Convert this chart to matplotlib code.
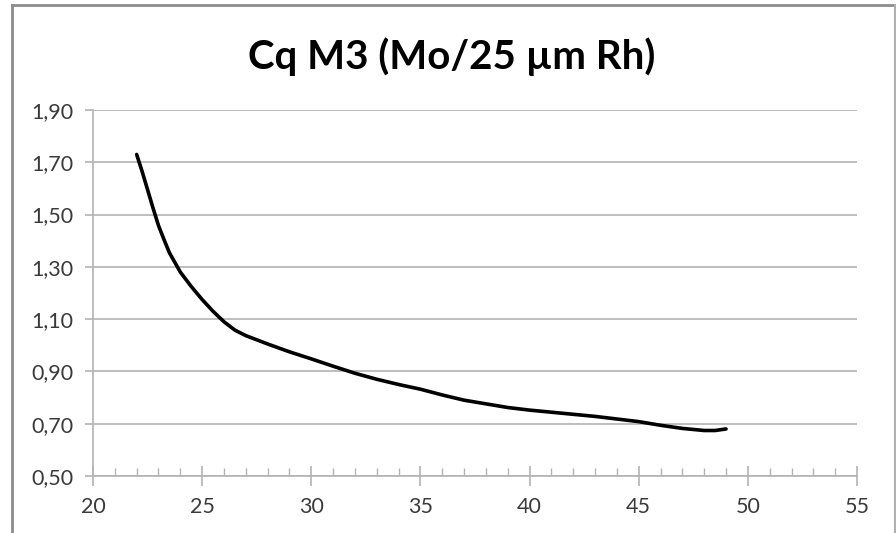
import matplotlib
matplotlib.use("Agg")
import matplotlib.pyplot as plt
from matplotlib.lines import Line2D
from matplotlib.ticker import MultipleLocator, FuncFormatter

# curve
x_vals = [22, 22.25, 22.5, 22.75, 23, 23.25, 23.5, 24, 24.5, 25, 25.5, 26, 26.5, 27, 28, 29,
          30, 31, 32, 33, 34, 35, 36, 37, 38, 39, 40, 41, 42, 43, 44, 45, 46, 47, 48, 48.5, 49]
cq_vals = [1.73, 1.665, 1.595, 1.525, 1.458, 1.405, 1.354, 1.28, 1.225, 1.175, 1.13, 1.09,
           1.058, 1.037, 1.005, 0.975, 0.948, 0.92, 0.893, 0.87, 0.85, 0.832, 0.81, 0.79,
           0.776, 0.762, 0.752, 0.744, 0.736, 0.728, 0.718, 0.708, 0.694, 0.682, 0.674,
           0.674, 0.68]
y_ticks = [0.50, 0.70, 0.90, 1.10, 1.30, 1.50, 1.70, 1.90]
x_ticks = [20, 25, 30, 35, 40, 45, 50, 55]
title = "Cq M3 (Mo/25 µm Rh)"

plt.rcParams["font.family"] = ["Lato", "DejaVu Sans"]
GRID_C = "#b3b3b3"
TXT_C = "#3a3a3a"

fig = plt.figure(figsize=(8.96, 5.33), dpi=100)
ax = fig.add_axes([93 / 896, 1 - 476 / 533, (857 - 93) / 896, (476 - 110) / 533])

ax.plot(x_vals, cq_vals, color="black", lw=2.6, solid_capstyle="round", solid_joinstyle="round")

ax.set_xlim(20, 55); ax.set_ylim(0.50, 1.90)
ax.set_xticks(x_ticks); ax.set_yticks(y_ticks)
ax.xaxis.set_minor_locator(MultipleLocator(1))
ax.yaxis.set_major_formatter(FuncFormatter(lambda v, p: ("%.2f" % v).replace(".", ",")))
ax.grid(axis="y", color=GRID_C, lw=1.2)
ax.set_axisbelow(True)
for s in ("top", "right"):
    ax.spines[s].set_visible(False)
for s in ("left", "bottom"):
    ax.spines[s].set_color(GRID_C); ax.spines[s].set_linewidth(1.2)
ax.tick_params(axis="x", which="major", direction="inout", length=14, width=1.2, color=GRID_C,
               labelsize=15.5, labelcolor=TXT_C, pad=8)
ax.tick_params(axis="x", which="minor", direction="in", length=6, width=1.0, color=GRID_C)
ax.tick_params(axis="y", which="major", direction="out", length=6, width=1.2, color=GRID_C,
               labelsize=15.5, labelcolor=TXT_C, pad=8)

fig.text(452 / 896, 1 - 57 / 533, title, ha="center", va="center", fontsize=29,
         fontweight="bold", color="black")

# chart-area border (left, top, right edges visible)
bc = "#8c8c8c"
fig.add_artist(Line2D([12 / 896, 12 / 896], [0, 1 - 5 / 533], color=bc, lw=2, transform=fig.transFigure))
fig.add_artist(Line2D([12 / 896, 895 / 896], [1 - 5 / 533, 1 - 5 / 533], color=bc, lw=2, transform=fig.transFigure))
fig.add_artist(Line2D([895 / 896, 895 / 896], [0, 1 - 5 / 533], color="#b0b0b0", lw=1.5, transform=fig.transFigure))

fig.savefig("out.png", dpi=100)
